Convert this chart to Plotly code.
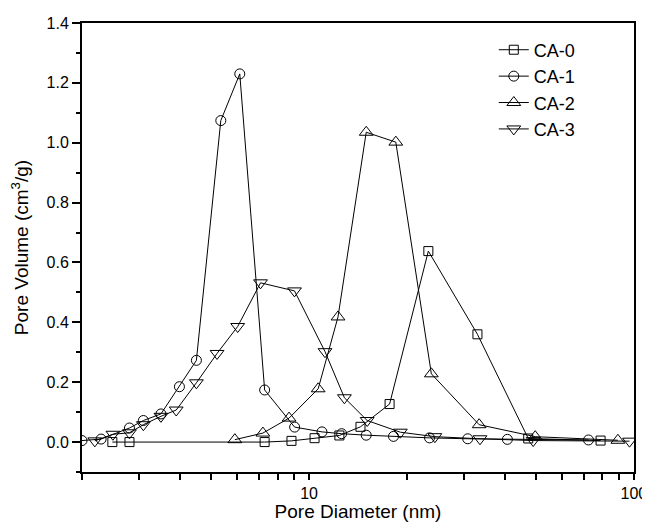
import plotly.graph_objects as go

# pore size distributions
ca0_d = [2.48, 2.80, 7.30, 8.83, 10.4, 12.4, 14.4, 17.7, 23.3, 33.0, 47.3, 79.0]
ca0_v = [0.0, 0.0, 0.0, 0.004, 0.013, 0.022, 0.051, 0.127, 0.638, 0.360, 0.012, 0.005]

ca1_d = [2.0, 2.29, 2.80, 3.09, 3.50, 3.99, 4.50, 5.35, 6.12, 7.30, 9.03, 10.96, 12.6, 15.0, 18.2, 23.5, 30.8, 40.8, 72.5]
ca1_v = [0.005, 0.01, 0.047, 0.072, 0.094, 0.185, 0.273, 1.074, 1.230, 0.174, 0.05, 0.034, 0.028, 0.023, 0.019, 0.014, 0.011, 0.009, 0.007]

ca2_d = [5.91, 7.21, 8.68, 10.67, 12.28, 15.0, 18.5, 23.8, 33.4, 49.7, 89.3]
ca2_v = [0.008, 0.03, 0.08, 0.178, 0.418, 1.035, 1.002, 0.228, 0.058, 0.018, 0.006]

ca3_d = [2.19, 2.49, 2.80, 3.09, 3.50, 3.90, 4.50, 5.21, 6.03, 7.09, 9.02, 11.2, 12.85, 15.1, 19.1, 24.4, 33.6, 49.0, 97.0]
ca3_v = [0.004, 0.026, 0.031, 0.058, 0.086, 0.107, 0.198, 0.296, 0.386, 0.532, 0.505, 0.302, 0.148, 0.072, 0.033, 0.018, 0.011, 0.005, 0.003]

series = [
    ("CA-0", ca0_d, ca0_v, "square-open", 9),
    ("CA-1", ca1_d, ca1_v, "circle-open", 10),
    ("CA-2", ca2_d, ca2_v, "triangle-up-open", 12),
    ("CA-3", ca3_d, ca3_v, "triangle-down-open", 12),
]

fig = go.Figure()
for name, d, v, sym, sz in series:
    fig.add_trace(go.Scatter(
        x=d, y=v, name=name, mode="lines+markers",
        line=dict(color="black", width=1),
        marker=dict(symbol=sym, size=sz, color="black", line=dict(width=1, color="black")),
    ))

font = "Liberation Sans, Arial, sans-serif"
# page body has an 8px margin, so the figure is sized/margined to land the axes where the original has them
fig.update_layout(
    width=642, height=514,
    margin=dict(l=74, r=16, t=15, b=50),
    paper_bgcolor="white", plot_bgcolor="white",
    font=dict(family=font, color="black", size=16),
    legend=dict(x=0.746, y=0.981, xanchor="left", yanchor="top",
                font=dict(size=18), bgcolor="rgba(0,0,0,0)", tracegroupgap=0),
)
fig.update_xaxes(
    type="log", range=[0.301, 2.0005], automargin=False, ticklabeloverflow="allow",
    tickvals=[10, 100], ticktext=["10", "100"],
    ticks="outside", ticklen=6, tickwidth=1.5, tickcolor="black",
    minor=dict(tickvals=[2, 3, 4, 5, 6, 7, 8, 9, 20, 30, 40, 50, 60, 70, 80, 90],
               ticks="outside", ticklen=6, tickwidth=1.5, tickcolor="black"),
    showline=True, linecolor="black", linewidth=2, mirror=True,
    showgrid=False, zeroline=False,
    title=dict(text="Pore Diameter (nm)", font=dict(size=19), standoff=6),
    tickfont=dict(size=16),
)
fig.update_yaxes(
    range=[-0.1, 1.4], tick0=0, dtick=0.2, tickformat=".1f", automargin=False,
    ticks="outside", ticklen=8, tickwidth=1.5, tickcolor="black",
    minor=dict(dtick=0.1, tick0=0, ticks="outside", ticklen=4, tickwidth=1.5, tickcolor="black"),
    showline=True, linecolor="black", linewidth=2, mirror=True,
    showgrid=False, zeroline=False,
    title=dict(text="Pore Volume (cm<sup>3</sup>/g)", font=dict(size=19), standoff=15),
    tickfont=dict(size=16),
)

fig.write_html("out.html")
